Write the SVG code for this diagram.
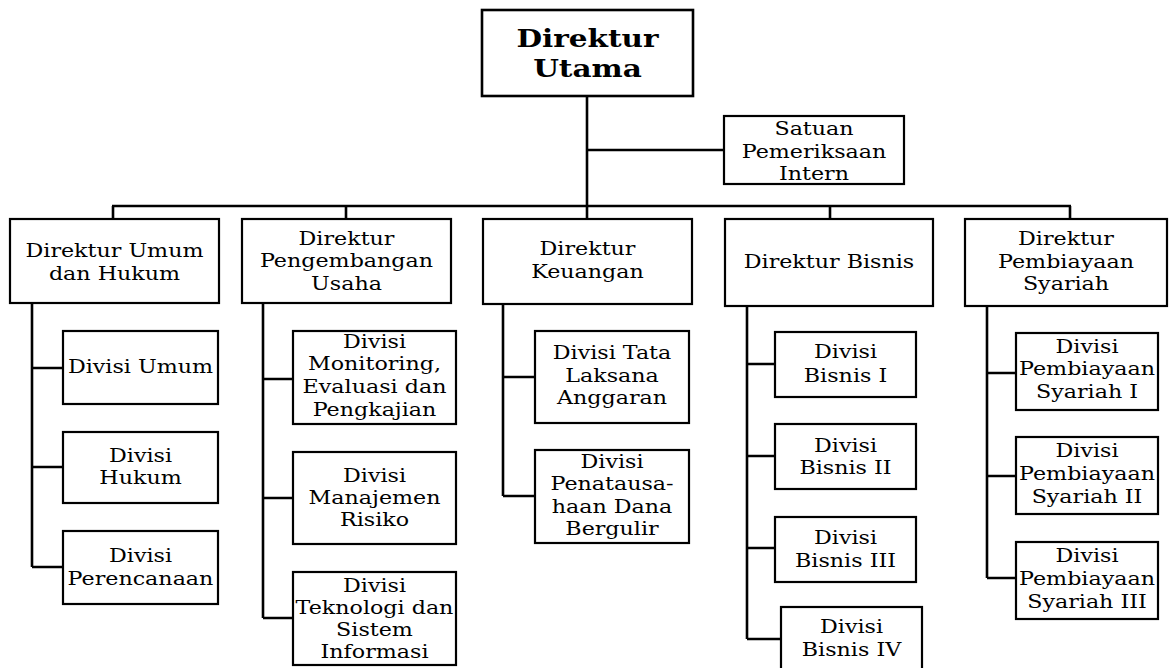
<svg xmlns="http://www.w3.org/2000/svg" width="1169" height="668" viewBox="0 0 1169 668">
<style>
rect{fill:#fff;stroke:#000;stroke-width:2.2}
text{font-family:"DejaVu Serif","Liberation Serif",serif;font-size:18.5px;fill:#000;text-anchor:middle}
.t{font-size:25px;font-weight:bold}
#conn line,#conn path{stroke:#000;stroke-width:2.6;fill:none}
</style>
<rect width="1169" height="668" style="fill:#fff;stroke:none"/>
<g id="conn">
<line x1="587" y1="96" x2="587" y2="206"/>
<line x1="587" y1="150" x2="724" y2="150"/>
<line x1="112" y1="206" x2="1071" y2="206"/>
<line x1="113" y1="206" x2="113" y2="219"/>
<line x1="346" y1="206" x2="346" y2="219"/>
<line x1="587" y1="206" x2="587" y2="219"/>
<line x1="830" y1="206" x2="830" y2="219"/>
<line x1="1070" y1="206" x2="1070" y2="219"/>
<path d="M32 303V567M32 368H63M32 467H63M32 567H63"/>
<path d="M263 303V618M263 379H293M263 498H293M263 618H293"/>
<path d="M503 304V496M503 377H535M503 496H535"/>
<path d="M747 306V639M747 364H775M747 456H775M747 548H775M747 639H781"/>
<path d="M987 306V578M987 373H1016M987 476H1016M987 578H1016"/>
</g>
<g id="dirut"><rect x="482" y="10" width="211" height="86" style="stroke-width:2.6"/><g transform="translate(587.5 0) scale(1.18 1)"><text class="t" x="0" y="47">Direktur</text><text class="t" x="0" y="77">Utama</text></g></g>
<g id="spi"><rect x="724" y="116" width="180" height="68"/><g transform="translate(814 0) scale(1.2 1)"><text x="0" y="135">Satuan</text><text x="0" y="158">Pemeriksaan</text><text x="0" y="180">Intern</text></g></g>
<g id="dir-umum"><rect x="10" y="219" width="209" height="84"/><g transform="translate(114.5 0) scale(1.2 1)"><text x="0" y="257">Direktur Umum</text><text x="0" y="280">dan Hukum</text></g></g>
<g id="div-umum"><rect x="63" y="331" width="155" height="73"/><g transform="translate(140.5 0) scale(1.2 1)"><text x="0" y="373">Divisi Umum</text></g></g>
<g id="div-hukum"><rect x="63" y="432" width="155" height="71"/><g transform="translate(140.5 0) scale(1.2 1)"><text x="0" y="462">Divisi</text><text x="0" y="484">Hukum</text></g></g>
<g id="div-perencanaan"><rect x="63" y="531" width="155" height="73"/><g transform="translate(140.5 0) scale(1.2 1)"><text x="0" y="562">Divisi</text><text x="0" y="585">Perencanaan</text></g></g>
<g id="dir-pengembangan"><rect x="242" y="219" width="209" height="84"/><g transform="translate(346.5 0) scale(1.2 1)"><text x="0" y="245">Direktur</text><text x="0" y="267">Pengembangan</text><text x="0" y="290">Usaha</text></g></g>
<g id="div-monitoring"><rect x="293" y="331" width="163" height="93"/><g transform="translate(374.5 0) scale(1.2 1)"><text x="0" y="348">Divisi</text><text x="0" y="370">Monitoring,</text><text x="0" y="393">Evaluasi dan</text><text x="0" y="416">Pengkajian</text></g></g>
<g id="div-risiko"><rect x="293" y="452" width="163" height="92"/><g transform="translate(374.5 0) scale(1.2 1)"><text x="0" y="482">Divisi</text><text x="0" y="504">Manajemen</text><text x="0" y="526">Risiko</text></g></g>
<g id="div-ti"><rect x="293" y="572" width="163" height="93"/><g transform="translate(374.5 0) scale(1.2 1)"><text x="0" y="592">Divisi</text><text x="0" y="614">Teknologi dan</text><text x="0" y="636">Sistem</text><text x="0" y="658">Informasi</text></g></g>
<g id="dir-keuangan"><rect x="483" y="219" width="209" height="85"/><g transform="translate(587.5 0) scale(1.2 1)"><text x="0" y="255">Direktur</text><text x="0" y="278">Keuangan</text></g></g>
<g id="div-anggaran"><rect x="535" y="331" width="154" height="92"/><g transform="translate(612 0) scale(1.2 1)"><text x="0" y="359">Divisi Tata</text><text x="0" y="382">Laksana</text><text x="0" y="404">Anggaran</text></g></g>
<g id="div-dana"><rect x="535" y="450" width="154" height="93"/><g transform="translate(612 0) scale(1.2 1)"><text x="0" y="468">Divisi</text><text x="0" y="490">Penatausa-</text><text x="0" y="513">haan Dana</text><text x="0" y="535">Bergulir</text></g></g>
<g id="dir-bisnis"><rect x="725" y="219" width="208" height="87"/><g transform="translate(829 0) scale(1.2 1)"><text x="0" y="268">Direktur Bisnis</text></g></g>
<g id="div-bisnis1"><rect x="775" y="332" width="141" height="65"/><g transform="translate(845.5 0) scale(1.2 1)"><text x="0" y="358">Divisi</text><text x="0" y="382">Bisnis I</text></g></g>
<g id="div-bisnis2"><rect x="775" y="424" width="141" height="65"/><g transform="translate(845.5 0) scale(1.2 1)"><text x="0" y="452">Divisi</text><text x="0" y="474">Bisnis II</text></g></g>
<g id="div-bisnis3"><rect x="775" y="517" width="141" height="65"/><g transform="translate(845.5 0) scale(1.2 1)"><text x="0" y="544">Divisi</text><text x="0" y="567">Bisnis III</text></g></g>
<g id="div-bisnis4"><rect x="781" y="607" width="141" height="70"/><g transform="translate(851.5 0) scale(1.2 1)"><text x="0" y="633">Divisi</text><text x="0" y="656">Bisnis IV</text></g></g>
<g id="dir-syariah"><rect x="965" y="219" width="202" height="87"/><g transform="translate(1066 0) scale(1.2 1)"><text x="0" y="245">Direktur</text><text x="0" y="268">Pembiayaan</text><text x="0" y="290">Syariah</text></g></g>
<g id="div-syariah1"><rect x="1016" y="333" width="142" height="77"/><g transform="translate(1087 0) scale(1.2 1)"><text x="0" y="353">Divisi</text><text x="0" y="375">Pembiayaan</text><text x="0" y="398">Syariah I</text></g></g>
<g id="div-syariah2"><rect x="1016" y="437" width="142" height="77"/><g transform="translate(1087 0) scale(1.2 1)"><text x="0" y="457">Divisi</text><text x="0" y="480">Pembiayaan</text><text x="0" y="503">Syariah II</text></g></g>
<g id="div-syariah3"><rect x="1016" y="542" width="142" height="77"/><g transform="translate(1087 0) scale(1.2 1)"><text x="0" y="562">Divisi</text><text x="0" y="585">Pembiayaan</text><text x="0" y="608">Syariah III</text></g></g>
</svg>
